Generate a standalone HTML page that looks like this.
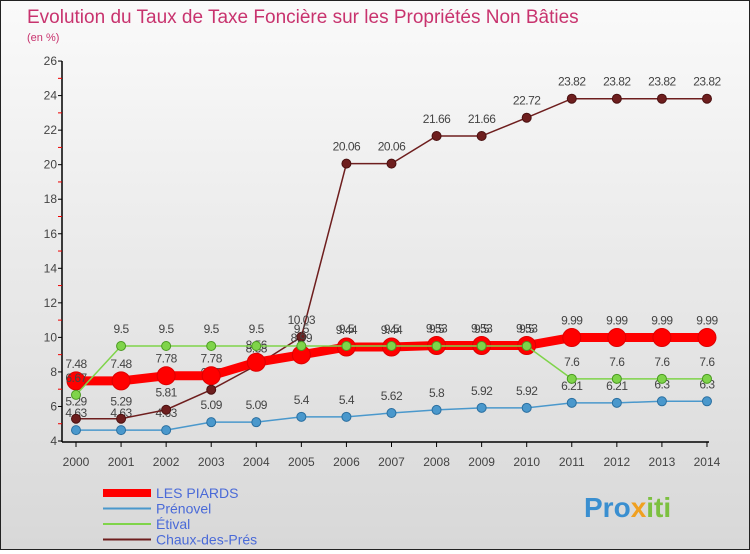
<!DOCTYPE html>
<html><head><meta charset="utf-8"><style>
body{margin:0;width:750px;height:550px;overflow:hidden;font-family:"Liberation Sans",sans-serif}
#wrap{position:relative;width:748px;height:548px;border:1px solid #222;background:linear-gradient(#fafafa,#d8d8d8)}
</style></head><body>
<div id="wrap">
<svg id="c" width="748" height="548"></svg>
</div>
<script>
const years=["2000","2001","2002","2003","2004","2005","2006","2007","2008","2009","2010","2011","2012","2013","2014"];
const piards=[7.48,7.48,7.78,7.78,8.56,8.99,9.44,9.44,9.53,9.53,9.53,9.99,9.99,9.99,9.99];
const prenovel=[4.63,4.63,4.63,5.09,5.09,5.4,5.4,5.62,5.8,5.92,5.92,6.21,6.21,6.3,6.3];
const etival=[6.67,9.5,9.5,9.5,9.5,9.5,9.5,9.5,9.5,9.5,9.5,7.6,7.6,7.6,7.6];
const chaux=[5.29,5.29,5.81,6.97,8.38,10.03,20.06,20.06,21.66,21.66,22.72,23.82,23.82,23.82,23.82];
const yTicks=[4,6,8,10,12,14,16,18,20,22,24,26];
const NS="http://www.w3.org/2000/svg",svg=document.getElementById('c');
const X=i=>75+i*45.07, Y=v=>440-(v-4)*17.27;
function el(t,a,txt,parent){const e=document.createElementNS(NS,t);for(const k in a)e.setAttribute(k,a[k]);if(txt!==undefined)e.textContent=txt;(parent||svg).appendChild(e);return e;}
let t=el('text',{x:26,y:22,'font-size':19,fill:'#c8336e'},'Evolution du Taux de Taxe Foncière sur les Propriétés Non Bâties');

t=el('text',{x:26,y:40,'font-size':11,fill:'#c8336e'},'(en %)');

let a=el('line',{x1:61,y1:60,x2:61,y2:441,stroke:'#000','stroke-width':1.5});

a=el('line',{x1:61,y1:441,x2:708,y2:441,stroke:'#000','stroke-width':1.5});

yTicks.forEach(v=>{el('line',{x1:57,x2:61,y1:Y(v),y2:Y(v),stroke:'#000'});
 if(v<26)el('line',{x1:57,x2:61,y1:Y(v+1),y2:Y(v+1),stroke:'#e00'});
 const l=el('text',{x:56,y:Y(v)+4,'font-size':12,fill:'#444','text-anchor':'end'},v);
 });
years.forEach((y,i)=>{el('line',{x1:X(i),x2:X(i),y1:441,y2:446,stroke:'#000'});
 const l=el('text',{x:X(i),y:465,'font-size':12,fill:'#444','text-anchor':'middle'},y);
 });
function series(d,color,w,r,name,stroke){
 const p=el('polyline',{points:d.map((v,i)=>X(i)+','+Y(v)).join(' '),fill:'none',stroke:color,'stroke-width':w});
 
 d.forEach((v,i)=>{const c=el('circle',{cx:X(i),cy:Y(v),r:r,fill:color,stroke:stroke,'stroke-width':1});
  
  const l=el('text',{x:X(i),y:Y(v)-13,'font-size':12,fill:'#444','text-anchor':'middle','letter-spacing':'-0.5'},v);
  });
}
series(prenovel,'#4a98cc',1.5,4.5,'prenovel','#2a6fa0');
series(chaux,'#6e1e1e',1.5,4.5,'chaux','#4a1010');
series(piards,'#ff0000',9,9,'les-piards','#d00');
series(etival,'#7fd44a',1.5,4.5,'etival','#4a9a20');
const leg=[["LES PIARDS","#ff0000",8],["Prénovel","#4a98cc",2],["Étival","#7fd44a",2],["Chaux-des-Prés","#6e1e1e",2]];
leg.forEach((g,i)=>{const y=492+i*15.5;
 const l=el('line',{x1:102,x2:150,y1:y,y2:y,stroke:g[1],'stroke-width':g[2]});
 
 const tx=el('text',{x:155,y:y+5,'font-size':14,fill:'#4a6ad8'},g[0]);
 });
t=el('text',{x:583,y:516,'font-size':28,'font-weight':'bold'});

el('tspan',{fill:'#3a8fd0'},'Pro',t);
el('tspan',{fill:'#f0a020'},'x',t);
el('tspan',{fill:'#7cc040'},'iti',t);
</script>
</body></html>
